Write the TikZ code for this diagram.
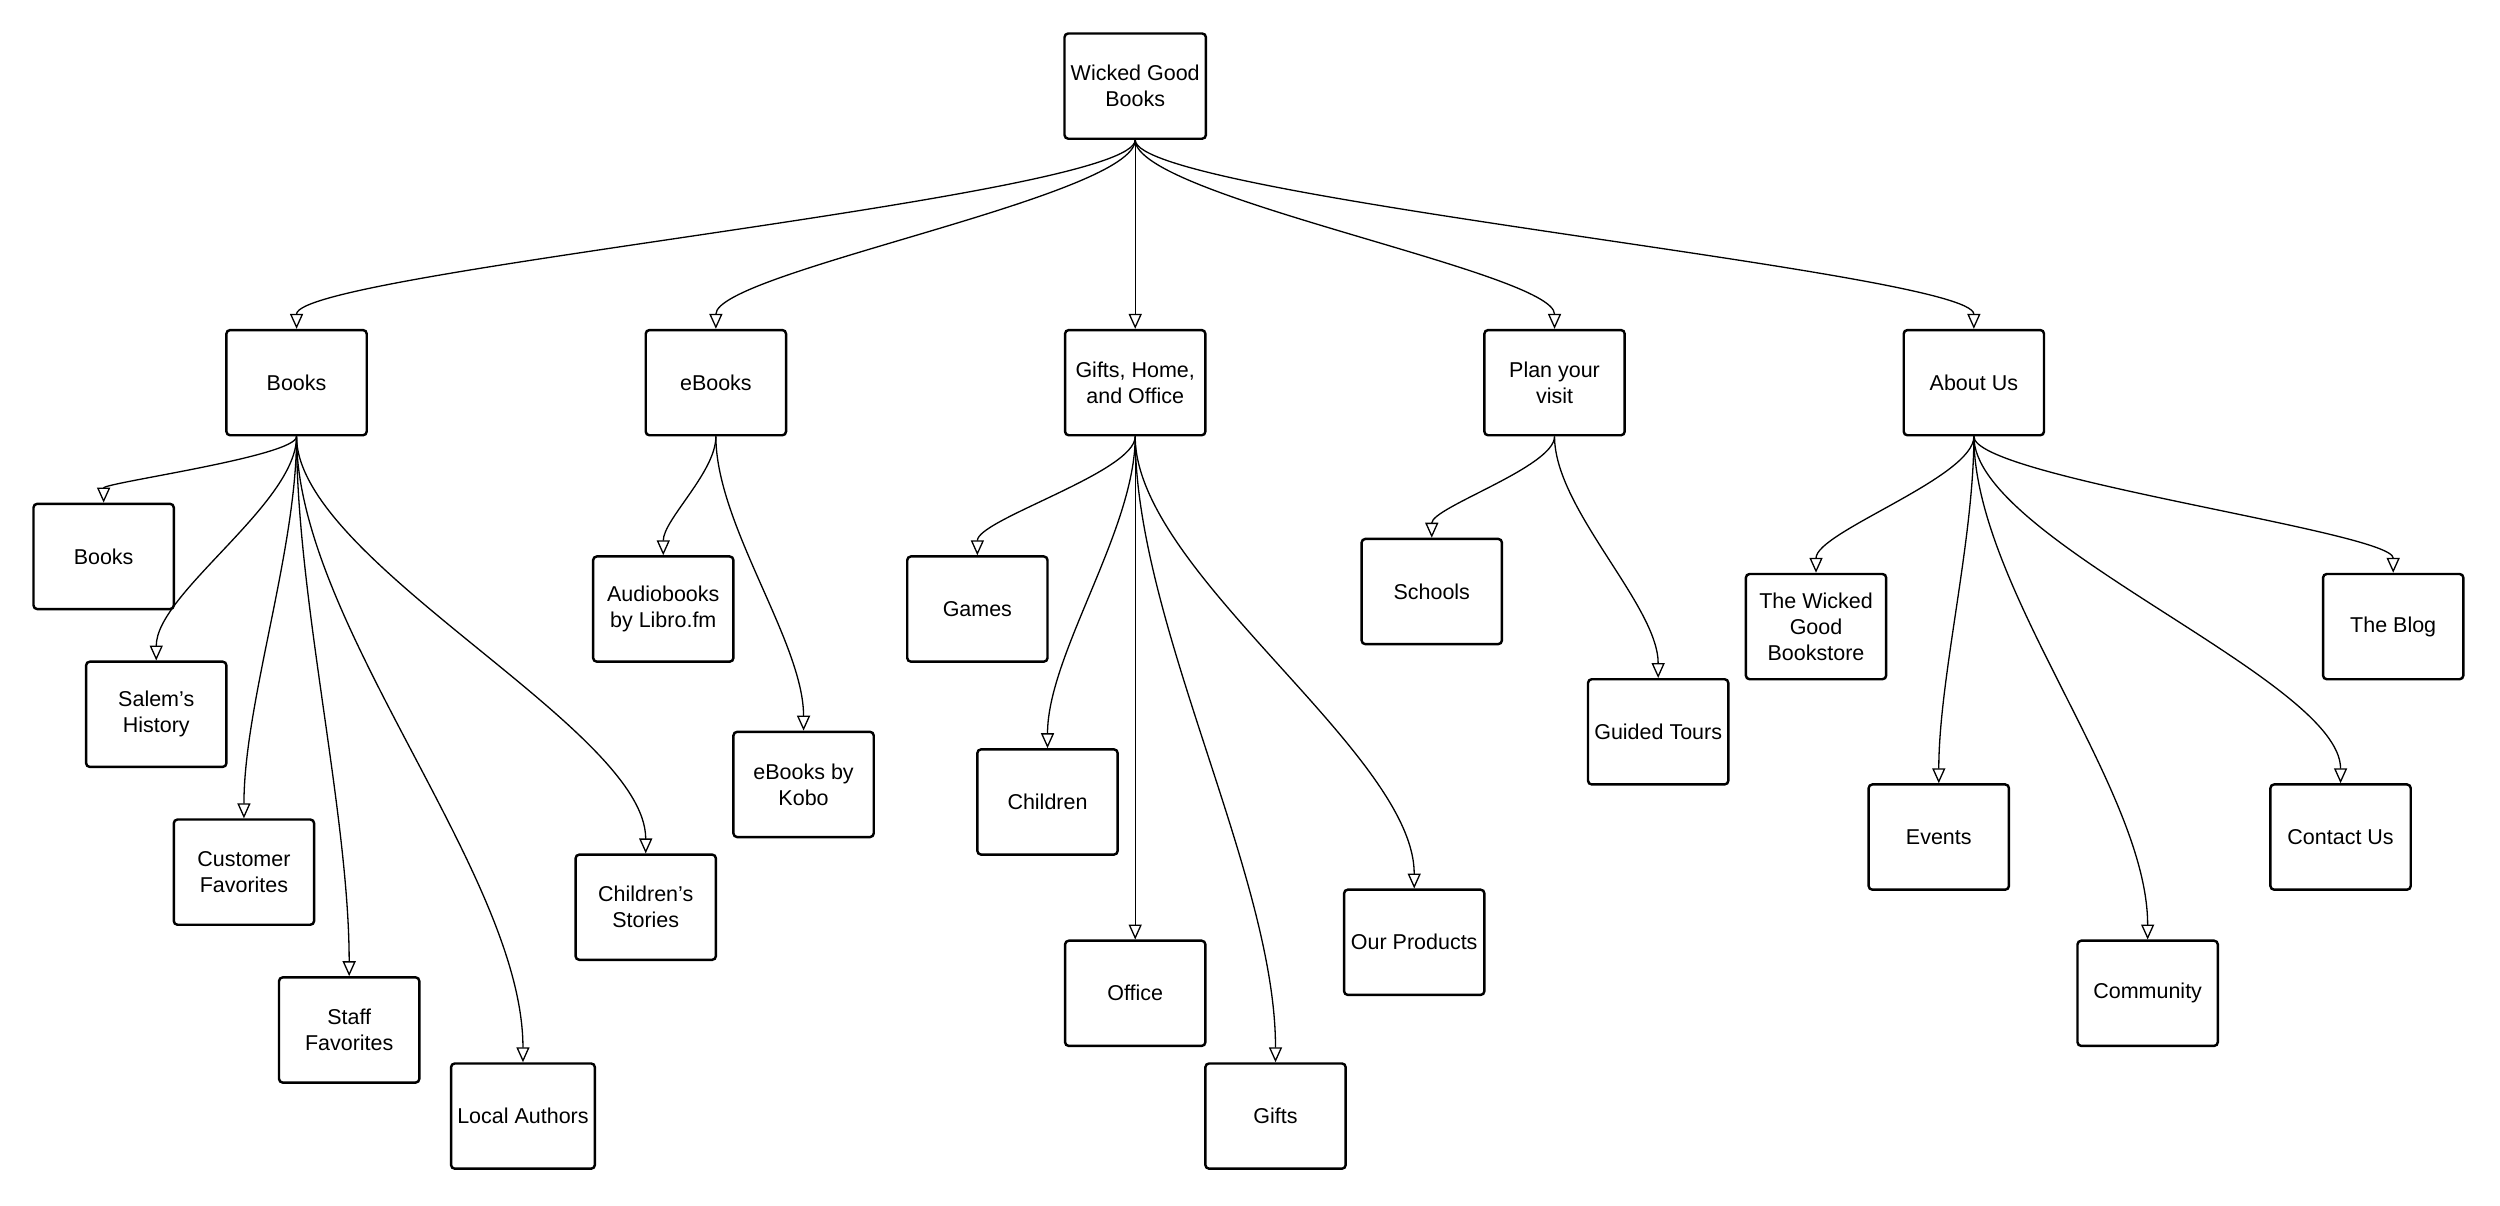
\documentclass[tikz,border=0pt]{standalone}
\usepackage{fontspec}
\setmainfont{Liberation Sans}
\usetikzlibrary{arrows.meta,calc}
\begin{document}
\begin{tikzpicture}[x=0.03cm,y=-0.03cm,
  box/.style={draw,line width=1.3pt,rounded corners=2pt,minimum width=2.64cm,minimum height=1.98cm,align=center,font=\fontsize{11.5}{14}\selectfont,fill=white},
  edge/.style={draw,line width=0.7pt,-{Triangle[open,length=8pt,width=7pt]}}]
\useasboundingbox (0,0) rectangle (1568,756);
\node[box] (root) at (712,54) {Wicked Good\\Books};
\node[box] (books) at (186,240) {Books};
\node[box] (ebooks) at (449,240) {eBooks};
\node[box] (gifts) at (712,240) {Gifts, Home,\\and Office};
\node[box] (plan) at (975,240) {Plan your\\visit};
\node[box] (about) at (1238,240) {About Us};
\node[box] (b1) at (65,349) {Books};
\node[box] (b2) at (98,448) {Salem's\\History};
\node[box] (b3) at (153,547) {Customer\\Favorites};
\node[box] (b4) at (219,646) {Staff\\Favorites};
\node[box] (b5) at (328,700) {Local Authors};
\node[box] (b6) at (405,569) {Children's\\Stories};
\node[box] (e1) at (416,382) {Audiobooks\\by Libro.fm};
\node[box] (e2) at (504,492) {eBooks by\\Kobo};
\node[box] (g1) at (613,382) {Games};
\node[box] (g2) at (657,503) {Children};
\node[box] (g3) at (712,623) {Office};
\node[box] (g4) at (800,700) {Gifts};
\node[box] (g5) at (887,591) {Our Products};
\node[box] (p1) at (898,371) {Schools};
\node[box] (p2) at (1040,459) {Guided Tours};
\node[box] (a1) at (1139,393) {The Wicked\\Good\\Bookstore};
\node[box] (a2) at (1216,525) {Events};
\node[box] (a3) at (1347,623) {Community};
\node[box] (a4) at (1468,525) {Contact Us};
\node[box] (a5) at (1501,393) {The Blog};
\foreach \pa/\ch in {root/books,root/ebooks,root/gifts,root/plan,root/about,
  books/b1,books/b2,books/b3,books/b4,books/b5,books/b6,
  ebooks/e1,ebooks/e2,gifts/g1,gifts/g2,gifts/g3,gifts/g4,gifts/g5,
  plan/p1,plan/p2,about/a1,about/a2,about/a3,about/a4,about/a5}
  \draw[edge] let \p1=(\pa.south), \p2=(\ch.north), \n1={0.3*(\y1-\y2)} in
   (\pa.south) .. controls (\x1,\y1-\n1) and (\x2,\y2+\n1) .. (\ch.north);
\end{tikzpicture}
\end{document}
